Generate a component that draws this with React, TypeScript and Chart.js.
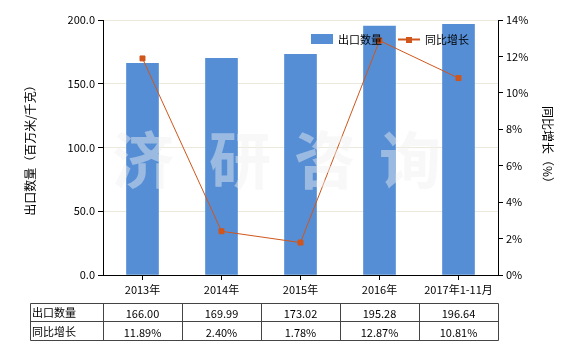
import React, { useEffect, useRef } from "react";
import { Chart, registerables } from "chart.js";

Chart.register(...registerables);

const categories = ["2013年", "2014年", "2015年", "2016年", "2017年1-11月"];
const exportQty = [166.0, 169.99, 173.02, 195.28, 196.64];
const yoyGrowth = [11.89, 2.4, 1.78, 12.87, 10.81];
const seriesNames = ["出口数量", "同比增长"];
const leftTitle = "出口数量（百万米/千克）";
const rightTitle = "同比增长（%）";
const watermark = ["济", "研", "咨", "询"];

const BAR = "#558ED5";
const LINE = "#D0561B";
const FONT = "'Noto Sans CJK SC', 'DejaVu Sans', sans-serif";

const extras = {
  id: "extras",
  afterDatasetsDraw(chart: any) {
    const ctx = chart.ctx;
    const area = chart.chartArea;
    // watermark
    ctx.save();
    ctx.font = `bold 62px ${FONT}`;
    ctx.fillStyle = "rgba(240,240,240,0.45)";
    ctx.textAlign = "center";
    ctx.textBaseline = "middle";
    const wx = [143, 240, 325, 410];
    watermark.forEach((c, i) => ctx.fillText(c, wx[i], 160));
    ctx.restore();

    // legend
    ctx.save();
    ctx.font = `11px ${FONT}`;
    ctx.textBaseline = "middle";
    ctx.fillStyle = BAR;
    ctx.fillRect(311, 34, 22, 10);
    ctx.fillStyle = "#000";
    ctx.fillText(seriesNames[0], 338, 40);
    ctx.strokeStyle = LINE;
    ctx.lineWidth = 2;
    ctx.beginPath();
    ctx.moveTo(398, 39.5);
    ctx.lineTo(420, 39.5);
    ctx.stroke();
    ctx.fillStyle = LINE;
    ctx.fillRect(406, 37, 6, 6);
    ctx.fillStyle = "#000";
    ctx.fillText(seriesNames[1], 425, 40);
    ctx.restore();

    // table
    const x = chart.scales.x;
    const n = categories.length;
    const step = (area.right - area.left) / n;
    const left = 30;
    const top = 303;
    const mid = 321;
    const bottom = 340;
    ctx.save();
    ctx.strokeStyle = "#444";
    ctx.lineWidth = 1;
    ctx.beginPath();
    ctx.rect(left + 0.5, top + 0.5, area.right - left, bottom - top);
    ctx.moveTo(left, mid + 0.5);
    ctx.lineTo(area.right + 0.5, mid + 0.5);
    for (let i = 0; i < n; i++) {
      const bx = Math.round(x.getPixelForValue(i) - step / 2) + 0.5;
      ctx.moveTo(bx, top);
      ctx.lineTo(bx, bottom);
    }
    ctx.stroke();
    ctx.font = `11px ${FONT}`;
    ctx.fillStyle = "#000";
    ctx.textBaseline = "middle";
    ctx.textAlign = "left";
    ctx.fillText(seriesNames[0], left + 2, (top + mid) / 2 + 1);
    ctx.fillText(seriesNames[1], left + 2, (mid + bottom) / 2 + 1);
    ctx.textAlign = "center";
    for (let i = 0; i < n; i++) {
      const cx = x.getPixelForValue(i);
      ctx.fillText(exportQty[i].toFixed(2), cx, (top + mid) / 2 + 2);
      ctx.fillText(yoyGrowth[i].toFixed(2) + "%", cx, (mid + bottom) / 2 + 2);
    }
    ctx.restore();
  },
};

export default function App() {
  const ref = useRef<HTMLCanvasElement>(null);
  useEffect(() => {
    document.body.style.margin = "0";
    const chart = new Chart(ref.current!, {
      type: "bar",
      data: {
        labels: categories,
        datasets: [
          {
            type: "line",
            label: seriesNames[1],
            data: yoyGrowth,
            yAxisID: "y1",
            borderColor: LINE,
            backgroundColor: LINE,
            borderWidth: 1,
            pointStyle: "rect",
            pointRadius: 3.5,
            pointBackgroundColor: LINE,
            pointBorderColor: LINE,
            tension: 0,
            order: 0,
          } as any,
          {
            type: "bar",
            label: seriesNames[0],
            data: exportQty,
            yAxisID: "y",
            backgroundColor: BAR,
            barThickness: 32,
            order: 1,
          },
        ],
      },
      options: {
        responsive: false,
        animation: false,
        layout: { padding: { top: 20, left: 0, right: 0, bottom: 0 } },
        plugins: { legend: { display: false }, tooltip: { enabled: false } },
        scales: {
          x: {
            offset: true,
            grid: { display: true, drawOnChartArea: false, offset: false, tickColor: "#000", tickLength: 5 },
            border: { color: "#000" },
            ticks: { color: "#000", font: { size: 11, family: FONT }, padding: 3, maxRotation: 0 },
            afterFit: (s: any) => { s.height = 75; },
          },
          y: {
            position: "left",
            min: 0,
            max: 200,
            ticks: {
              stepSize: 50,
              color: "#000",
              font: { size: 11, family: FONT },
              padding: 3,
              callback: (v: any) => Number(v).toFixed(1),
            },
            grid: { color: "#ECE9DC", tickColor: "#000", tickLength: 5 },
            border: { color: "#000" },
            title: { display: true, text: leftTitle, color: "#000", font: { size: 12, family: FONT }, padding: { top: 23 } },
            afterFit: (s: any) => { s.width = 103; },
          },
          y1: {
            position: "right",
            min: 0,
            max: 14,
            ticks: {
              stepSize: 2,
              color: "#000",
              font: { size: 11, family: FONT },
              padding: 3,
              callback: (v: any) => v + "%",
            },
            grid: { drawOnChartArea: false, tickColor: "#000", tickLength: 5 },
            border: { color: "#000" },
            title: { display: true, text: rightTitle, color: "#000", font: { size: 12, family: FONT }, padding: { top: 25 } },
            afterFit: (s: any) => { s.width = 82; },
          },
        },
      },
      plugins: [extras],
    });
    return () => chart.destroy();
  }, []);
  return (
    <div style={{ width: 580, height: 350, background: "#fff" }}>
      <canvas ref={ref} width={580} height={350} />
    </div>
  );
}
